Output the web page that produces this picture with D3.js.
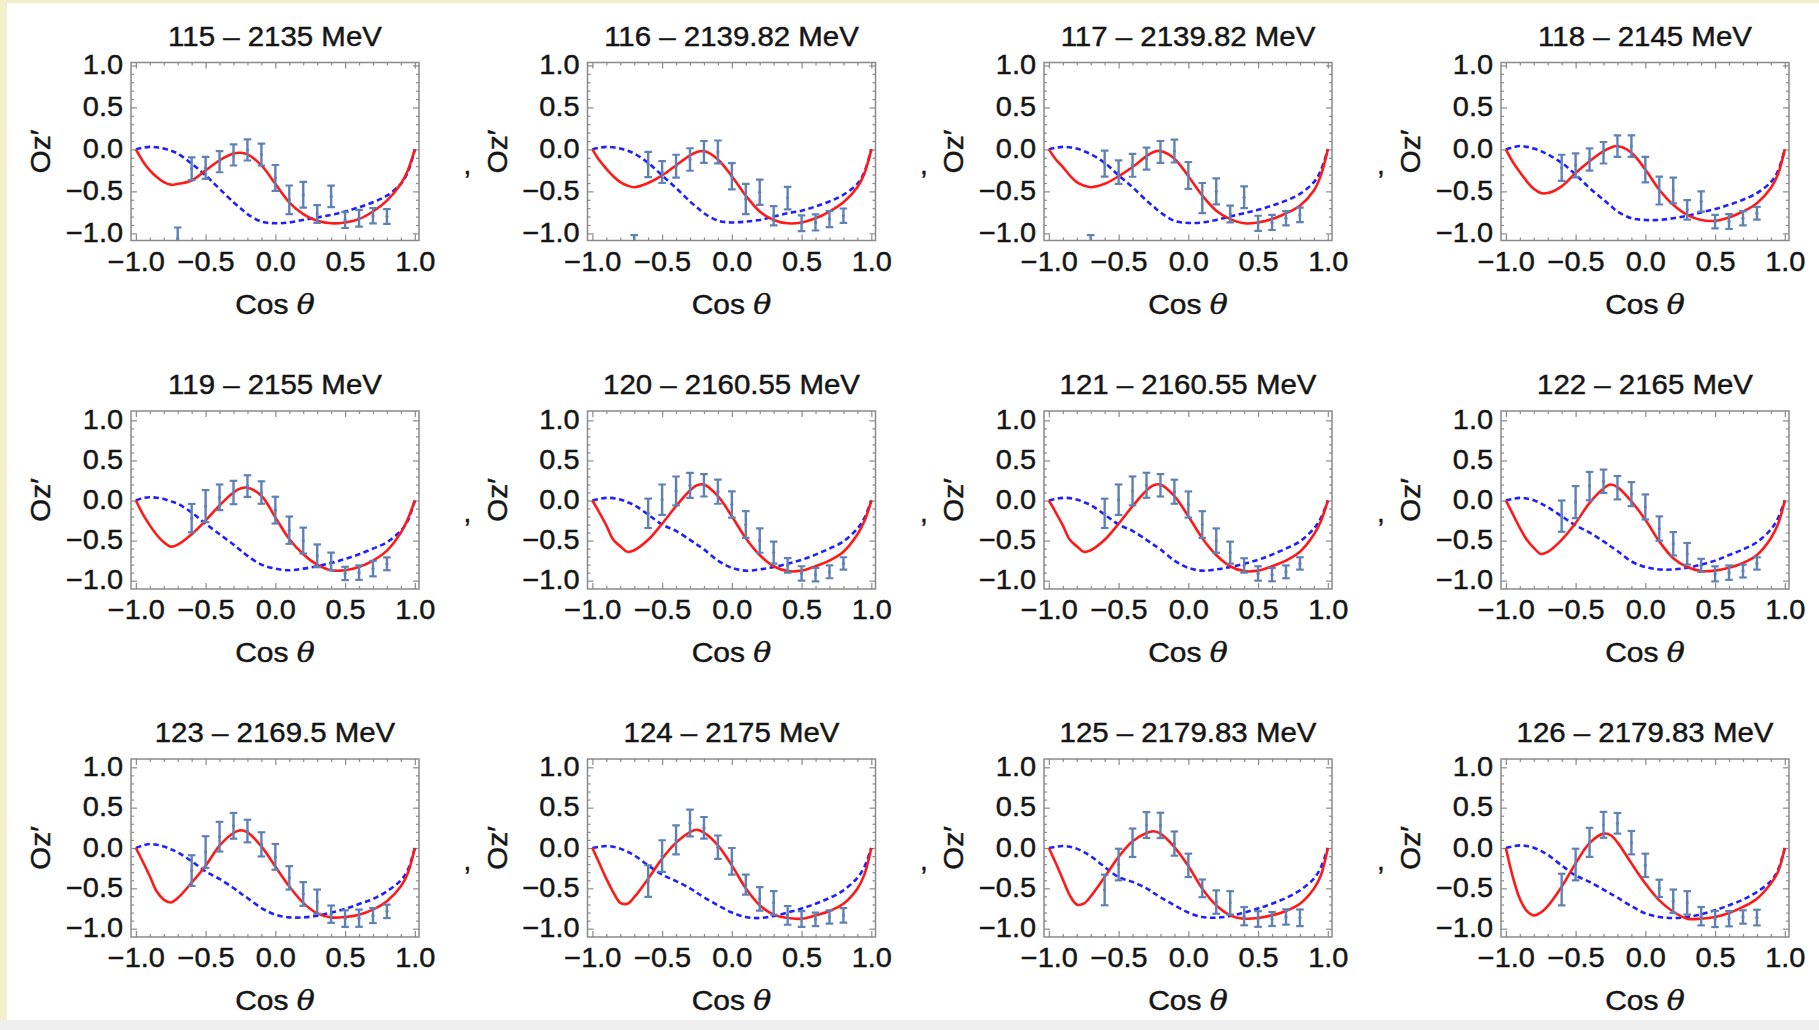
<!DOCTYPE html>
<html>
<head>
<meta charset="utf-8">
<script src="https://cdn.jsdelivr.net/npm/d3@7"></script>
<style>
  html, body { margin: 0; padding: 0; background: #ffffff; }
  svg { display: block; }
  text { font-family: "Liberation Sans", Arial, sans-serif; fill: #151515; }
</style>
</head>
<body>
<svg id="chart" width="1819" height="1030"></svg>
<script>
// ---- panel titles (bin number – beam energy) ----
const titles = [
  "115 – 2135 MeV", "116 – 2139.82 MeV", "117 – 2139.82 MeV", "118 – 2145 MeV",
  "119 – 2155 MeV", "120 – 2160.55 MeV", "121 – 2160.55 MeV", "122 – 2165 MeV",
  "123 – 2169.5 MeV", "124 – 2175 MeV", "125 – 2179.83 MeV", "126 – 2179.83 MeV"
];

// ---- measured points: cos(theta) bins ----
const dataCos = [-0.7, -0.6, -0.5, -0.4, -0.3, -0.2, -0.1, 0.0, 0.1, 0.2, 0.3, 0.4, 0.5, 0.6, 0.7, 0.8];

// Oz' measured values per panel (null = no measurement in that bin)
const ozValues = [
  [-1.06, -0.23, -0.22, -0.146, -0.066, -0.006, -0.062, -0.34, -0.60, -0.54, -0.77, -0.56, -0.84, -0.82, -0.79, -0.80],
  [-1.15, -0.18, -0.27, -0.20, -0.12, -0.03, -0.03, -0.32, -0.59, -0.51, -0.79, -0.58, -0.88, -0.87, -0.83, -0.79],
  [-1.15, -0.17, -0.27, -0.19, -0.11, -0.03, -0.02, -0.31, -0.58, -0.50, -0.77, -0.57, -0.88, -0.87, -0.82, -0.78],
  [null, -0.22, -0.19, -0.12, -0.04, 0.04, 0.04, -0.24, -0.49, -0.49, -0.72, -0.62, -0.86, -0.86, -0.82, -0.76],
  [null, -0.22, -0.07, 0.04, 0.10, 0.18, 0.10, -0.12, -0.37, -0.50, -0.69, -0.76, -0.91, -0.90, -0.85, -0.79],
  [null, -0.16, 0.01, 0.12, 0.19, 0.19, 0.11, -0.05, -0.30, -0.50, -0.65, -0.81, -0.91, -0.925, -0.89, -0.785],
  [null, -0.16, 0.01, 0.12, 0.19, 0.19, 0.11, -0.05, -0.30, -0.50, -0.65, -0.81, -0.91, -0.925, -0.89, -0.785],
  [null, -0.195, -0.02, 0.18, 0.24, 0.16, 0.08, -0.08, -0.35, -0.54, -0.665, -0.81, -0.915, -0.90, -0.88, -0.785],
  [null, -0.28, -0.05, 0.14, 0.275, 0.21, 0.045, -0.11, -0.37, -0.57, -0.665, -0.82, -0.875, -0.87, -0.837, -0.785],
  [null, -0.41, -0.10, 0.10, 0.31, 0.25, 0.01, -0.165, -0.455, -0.63, -0.68, -0.835, -0.88, -0.885, -0.855, -0.835],
  [null, -0.52, -0.205, 0.065, 0.285, 0.28, 0.055, -0.215, -0.50, -0.67, -0.68, -0.845, -0.88, -0.88, -0.855, -0.865],
  [null, -0.515, -0.205, 0.07, 0.287, 0.306, 0.066, -0.215, -0.50, -0.66, -0.68, -0.845, -0.88, -0.876, -0.855, -0.862]
];

// Oz' uncertainties per panel
const ozErrors = [
  [0.13, 0.136, 0.13, 0.126, 0.126, 0.126, 0.13, 0.154, 0.17, 0.154, 0.106, 0.128, 0.096, 0.10, 0.092, 0.088],
  [0.13, 0.15, 0.13, 0.136, 0.134, 0.13, 0.136, 0.156, 0.18, 0.15, 0.114, 0.134, 0.094, 0.096, 0.096, 0.086],
  [0.13, 0.155, 0.14, 0.136, 0.13, 0.13, 0.136, 0.16, 0.18, 0.155, 0.10, 0.13, 0.09, 0.09, 0.086, 0.086],
  [null, 0.156, 0.142, 0.132, 0.128, 0.128, 0.128, 0.152, 0.166, 0.154, 0.116, 0.12, 0.08, 0.088, 0.084, 0.076],
  [null, 0.177, 0.20, 0.16, 0.146, 0.135, 0.14, 0.167, 0.17, 0.162, 0.142, 0.11, 0.083, 0.09, 0.096, 0.08],
  [null, 0.183, 0.19, 0.18, 0.156, 0.14, 0.15, 0.163, 0.167, 0.152, 0.137, 0.09, 0.09, 0.083, 0.08, 0.077],
  [null, 0.183, 0.19, 0.18, 0.156, 0.14, 0.15, 0.163, 0.167, 0.152, 0.137, 0.09, 0.09, 0.083, 0.08, 0.077],
  [null, 0.195, 0.20, 0.177, 0.146, 0.146, 0.15, 0.156, 0.152, 0.146, 0.135, 0.083, 0.094, 0.09, 0.08, 0.077],
  [null, 0.19, 0.196, 0.184, 0.16, 0.14, 0.15, 0.16, 0.145, 0.147, 0.15, 0.107, 0.103, 0.107, 0.093, 0.083],
  [null, 0.196, 0.196, 0.18, 0.165, 0.134, 0.145, 0.165, 0.124, 0.145, 0.145, 0.116, 0.097, 0.083, 0.083, 0.09],
  [null, 0.19, 0.196, 0.176, 0.16, 0.157, 0.15, 0.145, 0.11, 0.145, 0.145, 0.113, 0.097, 0.087, 0.095, 0.103],
  [null, 0.196, 0.196, 0.18, 0.16, 0.128, 0.145, 0.145, 0.107, 0.145, 0.145, 0.114, 0.10, 0.095, 0.083, 0.097]
];

// ---- model curves, sampled in cos(theta) ----
const curveCos = [-1, -0.95, -0.9, -0.85, -0.8, -0.75, -0.7, -0.6, -0.5, -0.4, -0.3, -0.25, -0.2, -0.1,
                  0, 0.1, 0.2, 0.3, 0.4, 0.5, 0.6, 0.7, 0.8, 0.9, 0.95, 1];

// solid red: fitted solution
const fitCurve = [
  [0, -0.14, -0.25, -0.33, -0.39, -0.42, -0.41, -0.37, -0.25, -0.13, -0.05, -0.04, -0.06, -0.19, -0.41, -0.63, -0.77, -0.85, -0.88, -0.87, -0.83, -0.74, -0.61, -0.41, -0.25, 0],
  [0, -0.13, -0.23, -0.32, -0.39, -0.43, -0.45, -0.40, -0.31, -0.19, -0.07, -0.03, -0.02, -0.12, -0.32, -0.55, -0.74, -0.84, -0.88, -0.87, -0.82, -0.74, -0.63, -0.45, -0.29, 0],
  [0, -0.12, -0.21, -0.31, -0.39, -0.43, -0.45, -0.41, -0.32, -0.21, -0.08, -0.03, -0.02, -0.11, -0.32, -0.55, -0.73, -0.83, -0.88, -0.87, -0.83, -0.76, -0.67, -0.49, -0.31, 0],
  [0, -0.15, -0.27, -0.38, -0.47, -0.52, -0.52, -0.44, -0.28, -0.14, -0.02, 0.02, 0.04, -0.04, -0.24, -0.48, -0.66, -0.78, -0.84, -0.85, -0.81, -0.74, -0.64, -0.46, -0.30, 0],
  [0, -0.17, -0.31, -0.43, -0.52, -0.575, -0.55, -0.42, -0.25, -0.06, 0.10, 0.15, 0.16, 0.06, -0.21, -0.48, -0.67, -0.80, -0.87, -0.87, -0.83, -0.75, -0.625, -0.40, -0.23, 0],
  [0, -0.15, -0.31, -0.49, -0.57, -0.64, -0.62, -0.49, -0.29, -0.07, 0.125, 0.19, 0.20, 0.054, -0.196, -0.47, -0.68, -0.82, -0.88, -0.875, -0.82, -0.75, -0.64, -0.425, -0.26, 0],
  [0, -0.15, -0.31, -0.49, -0.57, -0.64, -0.62, -0.49, -0.29, -0.07, 0.125, 0.19, 0.20, 0.054, -0.196, -0.47, -0.68, -0.82, -0.88, -0.875, -0.82, -0.75, -0.64, -0.425, -0.26, 0],
  [0, -0.17, -0.34, -0.49, -0.59, -0.667, -0.64, -0.49, -0.28, -0.03, 0.15, 0.20, 0.167, -0.01, -0.24, -0.51, -0.72, -0.83, -0.88, -0.875, -0.84, -0.78, -0.68, -0.47, -0.30, 0],
  [0, -0.17, -0.35, -0.54, -0.64, -0.675, -0.62, -0.43, -0.22, 0.03, 0.186, 0.22, 0.194, 0.02, -0.23, -0.475, -0.68, -0.81, -0.86, -0.855, -0.826, -0.764, -0.66, -0.475, -0.31, 0],
  [0, -0.19, -0.38, -0.55, -0.68, -0.69, -0.61, -0.38, -0.132, 0.066, 0.198, 0.227, 0.19, 0.033, -0.215, -0.50, -0.71, -0.826, -0.868, -0.876, -0.835, -0.78, -0.69, -0.504, -0.33, 0],
  [0, -0.19, -0.39, -0.587, -0.70, -0.69, -0.60, -0.36, -0.11, 0.083, 0.186, 0.207, 0.178, 0.012, -0.223, -0.504, -0.71, -0.835, -0.876, -0.868, -0.835, -0.78, -0.69, -0.504, -0.34, 0],
  [0, -0.36, -0.63, -0.78, -0.835, -0.80, -0.72, -0.48, -0.19, 0.06, 0.178, 0.16, 0.07, -0.19, -0.44, -0.65, -0.79, -0.876, -0.876, -0.855, -0.806, -0.73, -0.628, -0.44, -0.30, 0]
];

// dashed blue: reference solution
const refCurve = [
  [0, 0.02, 0.03, 0.025, 0.01, -0.015, -0.05, -0.17, -0.31, -0.47, -0.63, -0.70, -0.77, -0.86, -0.88, -0.87, -0.84, -0.81, -0.78, -0.74, -0.69, -0.63, -0.55, -0.41, -0.27, 0],
  [0, 0.02, 0.03, 0.025, 0.01, -0.015, -0.05, -0.16, -0.31, -0.46, -0.62, -0.69, -0.76, -0.85, -0.87, -0.86, -0.84, -0.80, -0.76, -0.73, -0.68, -0.62, -0.54, -0.41, -0.27, 0],
  [0, 0.02, 0.03, 0.025, 0.01, -0.02, -0.056, -0.16, -0.31, -0.45, -0.61, -0.68, -0.75, -0.85, -0.876, -0.87, -0.84, -0.80, -0.76, -0.72, -0.67, -0.61, -0.53, -0.39, -0.25, 0],
  [0, 0.025, 0.04, 0.03, 0.01, -0.02, -0.06, -0.16, -0.30, -0.46, -0.60, -0.67, -0.74, -0.82, -0.84, -0.84, -0.82, -0.79, -0.75, -0.71, -0.66, -0.60, -0.52, -0.39, -0.26, 0],
  [0, 0.03, 0.04, 0.035, 0.02, -0.01, -0.04, -0.15, -0.29, -0.42, -0.55, -0.62, -0.69, -0.80, -0.85, -0.87, -0.85, -0.82, -0.78, -0.73, -0.67, -0.60, -0.52, -0.375, -0.25, 0],
  [0, 0.02, 0.033, 0.03, 0.013, -0.02, -0.058, -0.175, -0.30, -0.38, -0.49, -0.55, -0.61, -0.75, -0.84, -0.875, -0.86, -0.83, -0.79, -0.74, -0.675, -0.60, -0.51, -0.35, -0.22, 0],
  [0, 0.02, 0.033, 0.03, 0.013, -0.02, -0.058, -0.175, -0.30, -0.38, -0.49, -0.55, -0.61, -0.75, -0.84, -0.875, -0.86, -0.83, -0.79, -0.74, -0.675, -0.60, -0.51, -0.35, -0.22, 0],
  [0, 0.02, 0.033, 0.025, 0.004, -0.035, -0.083, -0.196, -0.31, -0.40, -0.51, -0.57, -0.63, -0.76, -0.83, -0.86, -0.86, -0.84, -0.80, -0.75, -0.68, -0.61, -0.52, -0.36, -0.225, 0],
  [0, 0.03, 0.05, 0.04, 0.02, -0.015, -0.054, -0.165, -0.29, -0.384, -0.496, -0.56, -0.62, -0.744, -0.826, -0.86, -0.86, -0.84, -0.80, -0.756, -0.694, -0.632, -0.537, -0.40, -0.27, 0],
  [0, 0.015, 0.025, 0.015, -0.008, -0.045, -0.09, -0.215, -0.33, -0.41, -0.50, -0.555, -0.61, -0.71, -0.80, -0.855, -0.868, -0.843, -0.80, -0.75, -0.69, -0.62, -0.525, -0.37, -0.235, 0],
  [0, 0.015, 0.025, 0.015, -0.008, -0.05, -0.10, -0.235, -0.36, -0.42, -0.50, -0.555, -0.61, -0.71, -0.80, -0.855, -0.864, -0.843, -0.80, -0.75, -0.69, -0.62, -0.525, -0.38, -0.24, 0],
  [0, 0.02, 0.033, 0.025, 0.004, -0.035, -0.083, -0.215, -0.34, -0.42, -0.517, -0.565, -0.616, -0.72, -0.81, -0.855, -0.868, -0.855, -0.82, -0.77, -0.71, -0.64, -0.545, -0.41, -0.277, 0]
];

// ---- tick values ----
const majorTicks = [-1, -0.5, 0, 0.5, 1];
const minorTicks = d3.range(-10, 11).map(i => i / 10).filter(v => Math.abs(v * 2 - Math.round(v * 2)) > 1e-6);

// ---- layout ----
const W = 1819, H = 1030;
const colLeft = [131, 587.5, 1044, 1501];
const rowTop = [62.5, 411, 759];
const frameW = 288, frameH = 178;
const xDomain = [-1.035, 1.03];
const rowYDomain = [[-1.085, 1.035], [-1.104, 1.117], [-1.103, 1.103]];
const textStretch = 1.07;

const svg = d3.select("#chart");

// page background with the slide border
svg.append("rect").attr("width", W).attr("height", H).attr("fill", "#ffffff");
svg.append("rect").attr("x", 0).attr("y", 0).attr("width", W).attr("height", 3).attr("fill", "#f3f0cb");
svg.append("rect").attr("x", 0).attr("y", 0).attr("width", 7).attr("height", 1020).attr("fill", "#f3f0cb");
svg.append("rect").attr("x", 0).attr("y", 1020).attr("width", W).attr("height", 10).attr("fill", "#efefef");

const fmt = d3.format(".1f");
const frameColor = "#8a8a8a";
const ink = "#151515";
const heavy = sel => sel.attr("stroke", ink).attr("stroke-width", 0.45).attr("paint-order", "stroke");

titles.forEach((title, i) => {
  const col = i % 4, row = Math.floor(i / 4);
  const left = colLeft[col], top = rowTop[row];
  const x = d3.scaleLinear().domain(xDomain).range([0, frameW]);
  const y = d3.scaleLinear().domain(rowYDomain[row]).range([frameH, 0]);

  const g = svg.append("g").attr("transform", `translate(${left},${top})`);
  const clipId = "clip" + i;
  g.append("clipPath").attr("id", clipId)
    .append("rect").attr("width", frameW).attr("height", frameH);

  // minor and major ticks on all four sides
  const addAxis = (axisFn, scale, ticks, size, labels, tx) => {
    const a = axisFn(scale).tickValues(ticks).tickSize(-size).tickPadding(8)
      .tickFormat(labels ? fmt : "");
    const ag = g.append("g").attr("transform", tx || null).call(a);
    ag.select(".domain").remove();
    ag.selectAll(".tick line").attr("stroke", frameColor).attr("stroke-width", 1.2);
    ag.selectAll("text").attr("font-size", 27).attr("fill", ink)
      .style("font-family", '"Liberation Sans", Arial, sans-serif').call(heavy);
    return ag;
  };
  addAxis(d3.axisLeft, y, minorTicks, 3, false);
  addAxis(d3.axisRight, y, minorTicks, 3, false, `translate(${frameW},0)`);
  addAxis(d3.axisTop, x, minorTicks, 3, false);
  addAxis(d3.axisBottom, x, minorTicks, 3, false, `translate(0,${frameH})`);
  addAxis(d3.axisRight, y, majorTicks, 6, false, `translate(${frameW},0)`);
  addAxis(d3.axisTop, x, majorTicks, 6, false);
  const yl = addAxis(d3.axisLeft, y, majorTicks, 6, true);
  yl.selectAll("text").attr("dy", "0.3em");
  const xl = addAxis(d3.axisBottom, x, majorTicks, 6, true, `translate(0,${frameH})`);
  xl.selectAll("text").attr("y", 30).attr("dy", 0);

  // frame
  g.append("rect").attr("width", frameW).attr("height", frameH)
    .attr("fill", "none").attr("stroke", frameColor).attr("stroke-width", 1.5);

  const plot = g.append("g").attr("clip-path", `url(#${clipId})`);

  // model curves
  const line = d3.line()
    .x(d => x(d[0])).y(d => y(d[1]))
    .curve(d3.curveCatmullRom.alpha(0.5));
  plot.append("path")
    .datum(curveCos.map((c, k) => [c, refCurve[i][k]]))
    .attr("d", line).attr("fill", "none")
    .attr("stroke", "#1f1fff").attr("stroke-width", 2.6)
    .attr("stroke-dasharray", "5.5,3.5");
  plot.append("path")
    .datum(curveCos.map((c, k) => [c, fitCurve[i][k]]))
    .attr("d", line).attr("fill", "none")
    .attr("stroke", "#ff1a1a").attr("stroke-width", 2.6);

  // measured points with error bars
  const pts = dataCos.map((c, k) => ({ c, v: ozValues[i][k], e: ozErrors[i][k] }))
    .filter(p => p.v !== null);
  const barColor = "#5f82b5";
  const eb = plot.selectAll("g.eb").data(pts).enter().append("g").attr("class", "eb");
  eb.append("line")
    .attr("x1", p => x(p.c)).attr("x2", p => x(p.c))
    .attr("y1", p => y(p.v - p.e)).attr("y2", p => y(p.v + p.e))
    .attr("stroke", barColor).attr("stroke-width", 2.4);
  [-1, 1].forEach(s => {
    eb.append("line")
      .attr("x1", p => x(p.c) - 3.8).attr("x2", p => x(p.c) + 3.8)
      .attr("y1", p => y(p.v + s * p.e)).attr("y2", p => y(p.v + s * p.e))
      .attr("stroke", barColor).attr("stroke-width", 2.2);
  });
  eb.append("circle")
    .attr("cx", p => x(p.c)).attr("cy", p => y(p.v)).attr("r", 1.6)
    .attr("fill", barColor);

  // title
  g.append("text")
    .attr("x", frameW / 2).attr("y", -16.7)
    .attr("text-anchor", "middle").attr("font-size", 27.5)
    .text(title).call(heavy);

  // axis labels
  const xt = g.append("text")
    .attr("x", frameW / 2).attr("y", frameH + 73)
    .attr("text-anchor", "middle").attr("font-size", 28).call(heavy);
  xt.append("tspan").text("Cos ");
  xt.append("tspan").attr("font-style", "italic").attr("font-family", '"DejaVu Serif", serif').text("θ");

  g.append("text")
    .attr("transform", `translate(-81,${frameH / 2}) rotate(-90)`)
    .attr("text-anchor", "middle").attr("font-size", 28)
    .text("Oz′").call(heavy);

  if (col > 0) {
    g.append("text")
      .attr("x", -124).attr("y", frameH / 2 + 22)
      .attr("font-size", 28).text(",").call(heavy);
  }
});

// slight horizontal widening of all lettering
svg.selectAll("text").each(function () {
  const len = this.getComputedTextLength();
  if (len > 0 && this.textContent.length > 1) {
    d3.select(this).attr("textLength", len * textStretch).attr("lengthAdjust", "spacingAndGlyphs");
  }
});
</script>
</body>
</html>
